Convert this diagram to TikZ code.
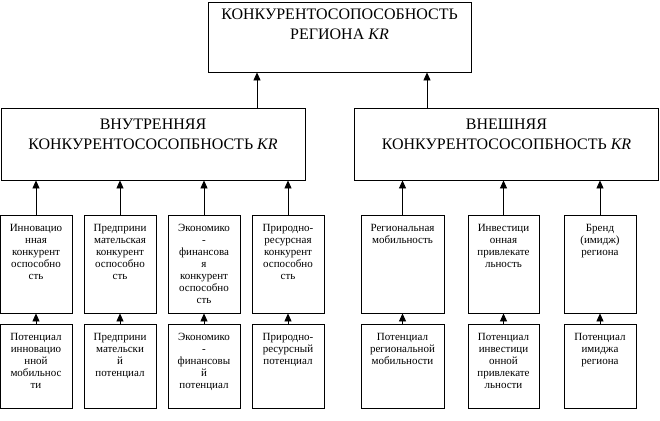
\documentclass[tikz,border=0pt]{standalone}
\usepackage{fontspec}
\setmainfont{Liberation Serif}
\usetikzlibrary{arrows.meta, positioning, calc}

\begin{document}
\begin{tikzpicture}[x=1pt, y=-1pt,
        box/.style={draw, line width=0.8pt, inner sep=0pt, fill=white},
        arr/.style={line width=0.8pt, -{Triangle[length=8pt, width=7pt]}},
        bigtxt/.style={font=\fontsize{16}{20}\selectfont},
        smalltxt/.style={font=\fontsize{11}{12}\selectfont}]
        \useasboundingbox (0,0) rectangle (660,420);

        % Top level
        \node[box, bigtxt] (top) at (339.5,37) {\parbox[c][70pt][t]{263pt}{\centering\vspace{7pt}%
            КОНКУРЕНТОСОПОСОБНОСТЬ\\РЕГИОНА \textit{KR}}};

        % Inner / outer
        \node[box, bigtxt] (inner) at (153,144) {\parbox[c][72pt][t]{304pt}{\centering\vspace{11pt}%
            ВНУТРЕННЯЯ\\КОНКУРЕНТОСОСОПБНОСТЬ \textit{KR}}};
        \node[box, bigtxt] (outer) at (506.5,144) {\parbox[c][72pt][t]{304pt}{\centering\vspace{11pt}%
            ВНЕШНЯЯ\\КОНКУРЕНТОСОСОПБНОСТЬ \textit{KR}}};

        \draw[arr] (257,0 |- inner.north) -- (257,0 |- top.south);
        \draw[arr] (427,0 |- outer.north) -- (427,0 |- top.south);

        % Components
        \foreach \n/\x/\w/\t in {
            c1/36/72/{Инновацио\\нная\\конкурент\\оспособно\\сть},
            c2/120/72/{Предприни\\мательская\\конкурент\\оспособно\\сть},
            c3/204/72/{Экономико\\-\\финансова\\я\\конкурент\\оспособно\\сть},
            c4/288/72/{Природно-\\ресурсная\\конкурент\\оспособно\\сть}} {
            \node[box, smalltxt] (\n) at (\x,264) {\parbox[c][98pt][t]{\w pt}{\centering\vspace{9pt}\t}};
            \draw[arr] (\n.north) -- (\n.north |- inner.south);
        }
        \foreach \n/\x/\w/\t in {
            c5/402.5/83/{Региональная\\мобильность},
            c6/503.5/71/{Инвестици\\онная\\привлекате\\льность},
            c7/600/72/{Бренд\\(имидж)\\региона}} {
            \node[box, smalltxt] (\n) at (\x,264) {\parbox[c][98pt][t]{\w pt}{\centering\vspace{9pt}\t}};
            \draw[arr] (\n.north) -- (\n.north |- outer.south);
        }

        % Potentials
        \foreach \n/\c/\w/\t in {
            p1/c1/72/{Потенциал\\инновацио\\нной\\мобильнос\\ти},
            p2/c2/72/{Предприни\\мательски\\й\\потенциал},
            p3/c3/72/{Экономико\\-\\финансовы\\й\\потенциал},
            p4/c4/72/{Природно-\\ресурсный\\потенциал},
            p5/c5/83/{Потенциал\\региональной\\мобильности},
            p6/c6/71/{Потенциал\\инвестици\\онной\\привлекате\\льности},
            p7/c7/72/{Потенциал\\имиджа\\региона}} {
            \node[box, smalltxt] (\n) at (\c |- 0,366) {\parbox[c][84pt][t]{\w pt}{\centering\vspace{9pt}\t}};
            \draw[arr] (\n.north) -- (\c.south);
        }
    \end{tikzpicture}
\end{document}
